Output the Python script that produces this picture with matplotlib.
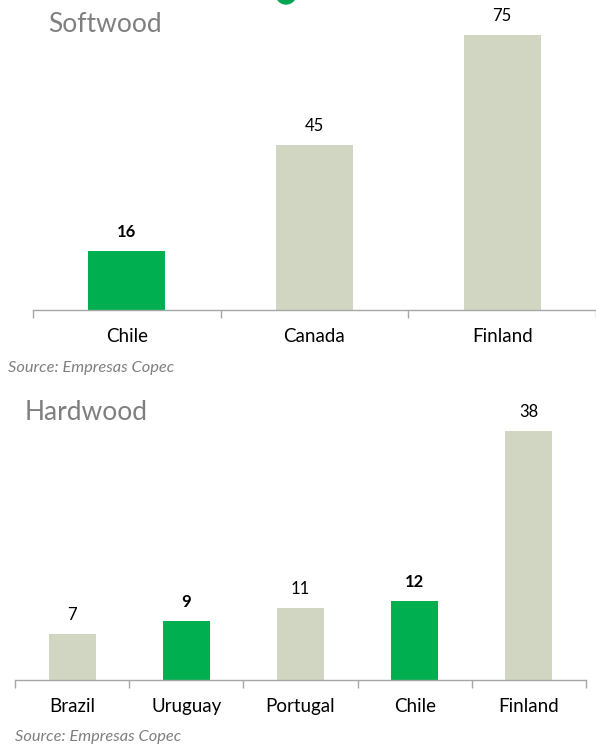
"""Softwood / hardwood comparison bars, Empresas Copec style."""

import matplotlib

matplotlib.use("Agg")

from matplotlib import pyplot as plt  # noqa: E402
from matplotlib.patches import Ellipse  # noqa: E402

SOFT_COUNTRIES = ["Chile", "Canada", "Finland"]
SOFT_VALUES = [16, 45, 75]
SOFT_HIGHLIGHT = [True, False, False]

HARD_COUNTRIES = ["Brazil", "Uruguay", "Portugal", "Chile", "Finland"]
HARD_VALUES = [7, 9, 11, 12, 38]
HARD_HIGHLIGHT = [False, True, False, True, False]

GREEN = "#00B050"
KHAKI = "#D1D6C2"
GREY_TEXT = "#7F7F7F"
AXIS_GREY = "#A6A6A6"

W, H = 596, 745
plt.rcParams["font.family"] = ["Lato", "DejaVu Sans"]


def px_box(left, top, right, bottom):
    """Convert a pixel box to figure fraction [l, b, w, h]."""
    return [left / W, (H - bottom) / H, (right - left) / W, (bottom - top) / H]


def draw_panel(ax, countries, values, highlight, xmax, ymax):
    positions = list(range(len(countries)))
    colors = [GREEN if h else KHAKI for h in highlight]
    ax.bar(positions, values, width=0.41, color=colors, zorder=2)
    ax.set_xlim(-0.5, xmax)
    ax.set_ylim(0, ymax)

    for x, v, h in zip(positions, values, highlight):
        ax.annotate(
            f"{v}",
            (x, v),
            xytext=(0, 8),
            textcoords="offset points",
            ha="center",
            va="bottom",
            fontsize=12,
            fontweight="bold" if h else "normal",
            color="black",
        )

    for side in ("top", "right", "left"):
        ax.spines[side].set_visible(False)
    ax.spines["bottom"].set_color(AXIS_GREY)
    ax.spines["bottom"].set_linewidth(1.0)
    ax.set_yticks([])

    ax.set_xticks(positions)
    ax.set_xticklabels(countries, fontsize=13.5, color="black")
    ax.tick_params(axis="x", which="major", length=0, pad=13)
    ax.set_xticks([p - 0.5 for p in positions] + [positions[-1] + 0.5], minor=True)
    ax.tick_params(axis="x", which="minor", length=6, width=1.0, color=AXIS_GREY,
                   direction="out")


fig = plt.figure(figsize=(W / 100, H / 100), dpi=100)

# top panel: softwood
ax_top = fig.add_axes(px_box(33, 0, 596, 310))
draw_panel(ax_top, SOFT_COUNTRIES, SOFT_VALUES, SOFT_HIGHLIGHT,
           xmax=-0.5 + 563 / 188.5, ymax=310 / 3.667)

# bottom panel: hardwood
ax_bot = fig.add_axes(px_box(15, 390, 586, 680))
draw_panel(ax_bot, HARD_COUNTRIES, HARD_VALUES, HARD_HIGHLIGHT,
           xmax=4.5, ymax=290 / 6.55)

fig.text(48 / W, 1 - 25 / H, "Softwood", fontsize=19, color=GREY_TEXT,
         ha="left", va="center")
fig.text(25 / W, 1 - 412 / H, "Hardwood", fontsize=19, color=GREY_TEXT,
         ha="left", va="center")
fig.text(8 / W, 1 - 368 / H, "Source: Empresas Copec", fontsize=11.8,
         style="italic", color=GREY_TEXT, ha="left", va="center")
fig.text(15 / W, 1 - 737 / H, "Source: Empresas Copec", fontsize=11.8,
         style="italic", color=GREY_TEXT, ha="left", va="center")

# cut-off logo at the very top
fig.add_artist(Ellipse((286 / W, 1 + 6 / H), 20 / W, 20 / H, color="#00A651",
                       transform=fig.transFigure, clip_on=False))

fig.savefig("out.png", dpi=100)
